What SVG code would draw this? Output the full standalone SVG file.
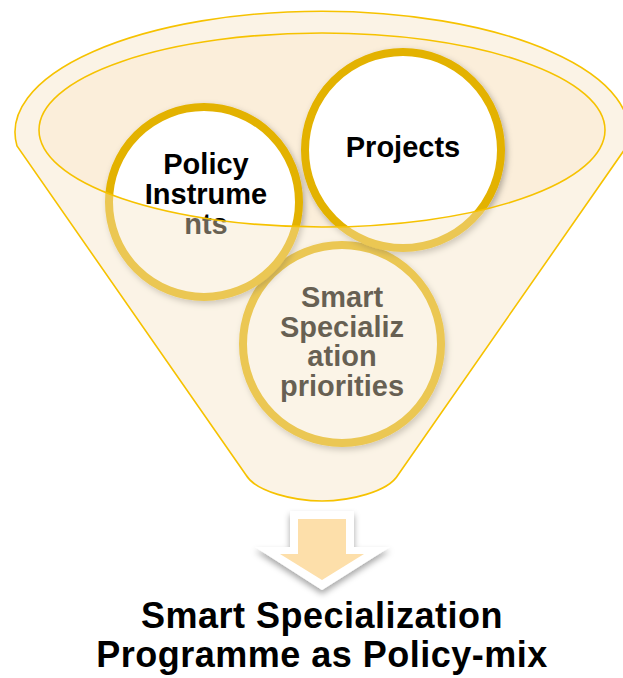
<svg xmlns="http://www.w3.org/2000/svg" width="623" height="678" viewBox="0 0 623 678">
<defs>
<style>
.outline{fill:none;stroke:#F6C200;stroke-width:1.6}
.ring{fill:#FFFFFF;stroke:#E3B200;stroke-width:8}
.lbl{font-family:"Liberation Sans",Arial,sans-serif;font-weight:bold;font-size:29px;fill:#000;text-anchor:middle}
.title{font-family:"Liberation Sans",Arial,sans-serif;font-weight:bold;font-size:36px;letter-spacing:0.5px;fill:#000;text-anchor:middle}
</style>
<filter id="sh" x="-20%" y="-20%" width="140%" height="140%">
<feDropShadow dx="2" dy="3" stdDeviation="3" flood-color="#000" flood-opacity="0.3"/>
</filter>
<filter id="ash" x="-30%" y="-30%" width="160%" height="170%">
<feDropShadow dx="0" dy="4" stdDeviation="3" flood-color="#000" flood-opacity="0.35"/>
</filter>
</defs>
<g id="funnel">
<path id="funnel-body" d="M 17 146 A 307 121 0 1 1 627 146 L 398 475 C 388 492 349 501 322 501 C 295 501 256 492 246 475 Z" fill="#FFFEFD"/>
<ellipse cx="322" cy="130" rx="283" ry="97" fill="#FBEEDA"/>
</g>
<g id="node-smart" filter="url(#sh)">
<circle class="ring" cx="342" cy="344" r="99"/>
</g>
<g id="node-policy" filter="url(#sh)">
<circle class="ring" cx="204" cy="202" r="95"/>
</g>
<g id="node-projects" filter="url(#sh)">
<circle class="ring" cx="403" cy="150" r="98"/>
</g>
<g id="labels">
<text class="lbl" x="206" y="174">Policy</text>
<text class="lbl" x="206" y="204">Instrume</text>
<text class="lbl" x="206" y="234">nts</text>
<text class="lbl" x="403" y="157">Projects</text>
<text class="lbl" x="342" y="307">Smart</text>
<text class="lbl" x="342" y="337">Specializ</text>
<text class="lbl" x="342" y="366">ation</text>
<text class="lbl" x="342" y="396">priorities</text>
</g>
<g id="funnel-overlay">
<path d="M 17 146 A 307 121 0 1 1 627 146 L 398 475 C 388 492 349 501 322 501 C 295 501 256 492 246 475 Z M 39 130 A 283 97 0 1 0 605 130 A 283 97 0 1 0 39 130 Z" fill="#F6E4C6" fill-opacity="0.42" fill-rule="evenodd"/>
<path class="outline" d="M 17 146 A 307 121 0 1 1 627 146 L 398 475 C 388 492 349 501 322 501 C 295 501 256 492 246 475 Z"/>
<ellipse class="outline" cx="322" cy="130" rx="283" ry="97"/>
</g>
<g id="connectors">
<path d="M 290 511 H 354 V 547 H 390 L 322 590 L 255 547 H 290 Z" fill="#FFFFFF" filter="url(#ash)"/>
<path d="M 298 519 H 346 V 554 H 364 L 322 580 L 280 554 H 298 Z" fill="#FDDFAA"/>
</g>
<g id="title">
<text class="title" x="322" y="628">Smart Specialization</text>
<text class="title" x="322" y="667">Programme as Policy-mix</text>
</g>
</svg>
